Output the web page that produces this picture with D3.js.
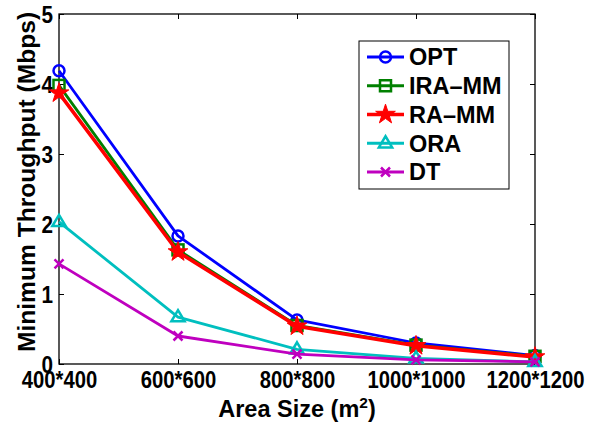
<!DOCTYPE html>
<html>
<head>
<meta charset="utf-8">
<script src="https://cdn.jsdelivr.net/npm/d3@7"></script>
<style>
  body { margin: 0; background: #fff; }
  svg text { font-family: "Liberation Sans", Arial, Helvetica, sans-serif; font-weight: bold; fill: #000; }
</style>
</head>
<body>
<svg id="chart" width="599" height="426"></svg>
<script>
const categories = ["400*400", "600*600", "800*800", "1000*1000", "1200*1200"];
const yTicks = [0, 1, 2, 3, 4, 5];
const seriesNames = ["OPT", "IRA\u2013MM", "RA\u2013MM", "ORA", "DT"];
const optValues   = [4.19, 1.83, 0.63, 0.30, 0.12];
const iraValues   = [3.98, 1.63, 0.55, 0.27, 0.11];
const raValues    = [3.87, 1.60, 0.54, 0.26, 0.10];
const oraValues   = [2.03, 0.67, 0.21, 0.08, 0.03];
const dtValues    = [1.43, 0.40, 0.14, 0.06, 0.03];
const colors  = ["#0000ff", "#008000", "#ff0000", "#00bfbf", "#bf00bf"];
const markers = ["circle", "square", "star", "triangle", "cross"];

const series = [optValues, iraValues, raValues, oraValues, dtValues].map((v, i) => ({
  name: seriesNames[i], values: v, color: colors[i], marker: markers[i]
}));

const svg = d3.select("#chart");
const L = 59, R = 535, T = 14, B = 364;

const x = d3.scalePoint().domain(categories).range([L, R]);
const y = d3.scaleLinear().domain([0, 5]).range([B, T]);

// axes box
svg.append("rect").attr("x", L).attr("y", T).attr("width", R - L).attr("height", B - T)
  .attr("fill", "none").attr("stroke", "#000").attr("stroke-width", 1.3);

const tickLen = 5;
// bottom axis
const xAxis = svg.append("g").attr("transform", `translate(0,${B})`)
  .call(d3.axisBottom(x).tickSizeInner(-tickLen).tickSizeOuter(0).tickPadding(0));
xAxis.select(".domain").remove();
xAxis.selectAll("text").attr("font-size", "23px").attr("y", 0).attr("dy", 0)
  .attr("transform", "translate(0,24) scale(0.88,1)");
// top ticks
svg.append("g").attr("transform", `translate(0,${T})`)
  .call(d3.axisTop(x).tickSizeInner(-tickLen).tickSizeOuter(0).tickFormat(""))
  .select(".domain").remove();
// left axis
const yAxis = svg.append("g").attr("transform", `translate(${L},0)`)
  .call(d3.axisLeft(y).tickValues(yTicks).tickFormat(d3.format("d")).tickSizeInner(-tickLen).tickSizeOuter(0).tickPadding(0));
yAxis.select(".domain").remove();
yAxis.selectAll("text").attr("font-size", "23px").attr("x", 0).attr("dy", "0.36em")
  .attr("transform", "translate(-6,0) scale(0.9,1)");
// right ticks
svg.append("g").attr("transform", `translate(${R},0)`)
  .call(d3.axisRight(y).tickValues(yTicks).tickSizeInner(-tickLen).tickSizeOuter(0).tickFormat(""))
  .select(".domain").remove();
svg.selectAll(".tick line").attr("stroke", "#000").attr("stroke-width", 1);

// axis labels
const xl = svg.append("text").attr("x", (L + R) / 2).attr("y", 417)
  .attr("text-anchor", "middle").attr("font-size", "23.5px");
xl.append("tspan").text("Area Size (m");
xl.append("tspan").attr("font-size", "15.5px").attr("dy", "-9").text("2");
xl.append("tspan").attr("dy", "9").text(")");

svg.append("text").attr("transform", `translate(35,182) rotate(-90)`)
  .attr("text-anchor", "middle").attr("font-size", "24.6px").text("Minimum Throughput (Mbps)");

// marker drawing
function drawMarker(g, type, color, cx, cy, scale = 1) {
  const s = scale;
  if (type === "circle") {
    g.append("circle").attr("cx", cx).attr("cy", cy).attr("r", 5.5 * s)
      .attr("fill", "none").attr("stroke", color).attr("stroke-width", 2.5);
  } else if (type === "square") {
    g.append("rect").attr("x", cx - 5.5 * s).attr("y", cy - 5.5 * s).attr("width", 11 * s).attr("height", 11 * s)
      .attr("fill", "none").attr("stroke", color).attr("stroke-width", 2.5);
  } else if (type === "star") {
    g.append("path").attr("transform", `translate(${cx},${cy})`)
      .attr("d", d3.symbol(d3.symbolStar, 120 * s * s)())
      .attr("fill", color).attr("stroke", color).attr("stroke-width", 1);
  } else if (type === "triangle") {
    const r = 7 * s;
    g.append("path").attr("d", `M${cx},${cy - r} L${cx + r * 0.95},${cy + r * 0.6} L${cx - r * 0.95},${cy + r * 0.6} Z`)
      .attr("fill", "none").attr("stroke", color).attr("stroke-width", 2.5);
  } else if (type === "cross") {
    const r = 4.5 * s;
    g.append("path").attr("d", `M${cx - r},${cy - r} L${cx + r},${cy + r} M${cx - r},${cy + r} L${cx + r},${cy - r}`)
      .attr("stroke", color).attr("stroke-width", 2.5).attr("fill", "none");
  }
}

const lineWidths = [2.8, 2.8, 3.6, 2.8, 2.8];
series.forEach((s, i) => {
  const g = svg.append("g");
  const line = d3.line().x((d, j) => x(categories[j])).y(d => y(d));
  g.append("path").datum(s.values).attr("d", line)
    .attr("fill", "none").attr("stroke", s.color).attr("stroke-width", lineWidths[i])
    .attr("stroke-linejoin", "round");
  s.values.forEach((v, j) => drawMarker(g, s.marker, s.color, x(categories[j]), y(v)));
});

// legend
const lg = svg.append("g");
lg.append("rect").attr("x", 359).attr("y", 41).attr("width", 150).attr("height", 148)
  .attr("fill", "#fff").attr("stroke", "#000").attr("stroke-width", 1);
const rowY = d3.scalePoint().domain(seriesNames).range([57, 172]);
series.forEach((s, i) => {
  const cy = rowY(s.name);
  lg.append("line").attr("x1", 367).attr("x2", 404).attr("y1", cy).attr("y2", cy)
    .attr("stroke", s.color).attr("stroke-width", lineWidths[i]);
  drawMarker(lg, s.marker, s.color, 385.5, cy);
  lg.append("text").attr("x", 409).attr("y", cy).attr("dy", "0.36em")
    .attr("font-size", "23.5px").text(s.name);
});
</script>
</body>
</html>
